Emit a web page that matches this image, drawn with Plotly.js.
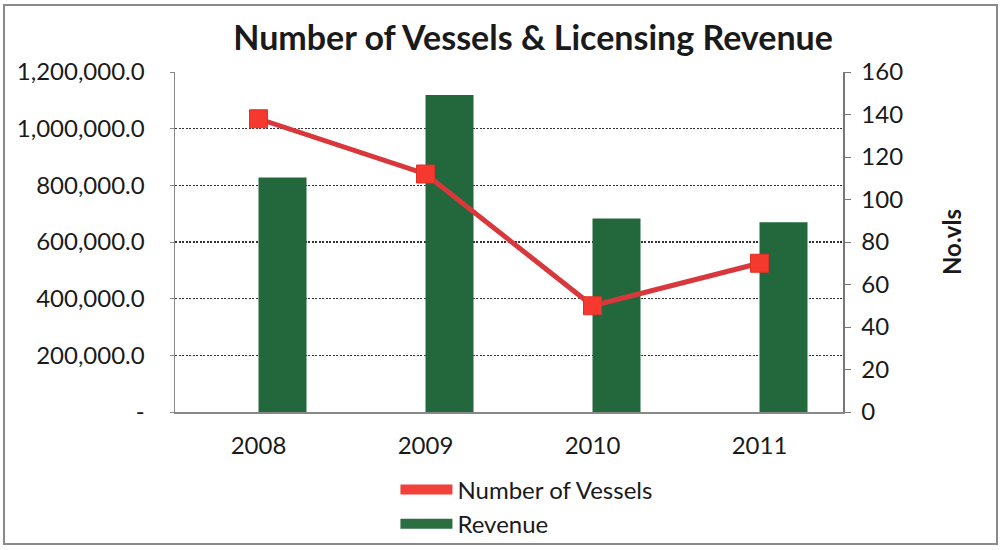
<!DOCTYPE html>
<html>
<head>
<meta charset="utf-8">
<script src="https://cdn.plot.ly/plotly-3.0.1.min.js"></script>
<style>
html,body{margin:0;padding:0;background:#fff;}
#wrap{position:relative;width:1004px;height:550px;}
#chart{width:1004px;height:550px;}
#frame{position:absolute;left:3px;top:4px;width:995px;height:541px;border:2px solid #8a8a8a;pointer-events:none;box-sizing:border-box;}
</style>
</head>
<body>
<div id="wrap"><div id="chart"></div><div id="frame"></div></div>
<script>
const years = ['2008', '2009', '2010', '2011'];
const vessels = [138, 112, 50, 70];
const revenue = [828000, 1119000, 683000, 670000];
const revTickVals = [0, 200000, 400000, 600000, 800000, 1000000, 1200000];
const revTickText = ['-', '200,000.0', '400,000.0', '600,000.0', '800,000.0', '1,000,000.0', '1,200,000.0'];
const legendNames = ['Number of Vessels', 'Revenue'];

const FONT = 'Lato, "Open Sans", sans-serif';
const RED = '#f2403a';
const GREEN = '#22683c';

const traces = [
  {type:'bar', name:legendNames[0], x:years, y:vessels, yaxis:'y', showlegend:false,
   marker:{color:RED}, hoverinfo:'skip'},
  {type:'bar', name:legendNames[1], x:years, y:revenue, yaxis:'y', showlegend:false,
   marker:{color:GREEN}},
  {type:'scatter', mode:'lines+markers', name:legendNames[0], x:years, y:vessels, yaxis:'y2',
   showlegend:false,
   line:{color:'#d8383c', width:5},
   marker:{symbol:'square', size:18, color:'#f5392f', line:{color:'#e0302a', width:1}}},
  // legend-only entries (wide rectangle swatches like the original)
  {type:'scatter', mode:'lines', name:legendNames[0], x:[null], y:[null], yaxis:'y',
   line:{color:RED, width:14}, hoverinfo:'skip'},
  {type:'scatter', mode:'lines', name:legendNames[1], x:[null], y:[null], yaxis:'y',
   line:{color:'#2b6e42', width:14}, hoverinfo:'skip'}
];

const layout = {
  width:1004, height:550,
  margin:{l:175, r:161, t:72, b:138},
  paper_bgcolor:'#ffffff', plot_bgcolor:'#ffffff',
  font:{family:FONT, color:'#1a1a1a', size:24},
  title:{text:'<b>Number of Vessels & Licensing Revenue</b>', font:{family:FONT, size:34, color:'#1a1a1a'},
         x:0.531, xanchor:'center', y:0.93, yanchor:'middle'},
  barmode:'group', bargap:0.425, bargroupgap:0,
  showlegend:true,
  legend:{orientation:'v', x:0.33, xanchor:'left', yref:'container', y:0.15, yanchor:'top',
          font:{family:FONT, size:24, color:'#1a1a1a'}, tracegroupgap:0, itemwidth:52,
          bgcolor:'rgba(0,0,0,0)'},
  xaxis:{type:'category', showline:true, linecolor:'#888', linewidth:1.5, ticks:'',
         tickfont:{family:FONT, size:24}, showgrid:false, zeroline:false, ticklabelstandoff:12},
  yaxis:{range:[0,1200000], tickvals:revTickVals, ticktext:revTickText, showline:true,
         linecolor:'#888', linewidth:1.5, ticks:'outside', ticklen:4, tickcolor:'#888',
         showgrid:true, gridcolor:'#333', griddash:'2px,1.5px', gridwidth:1.3, zeroline:false,
         tickfont:{family:FONT, size:24}, ticklabelstandoff:20},
  yaxis2:{range:[0,160], dtick:20, overlaying:'y', side:'right', showline:true, linecolor:'#777',
          linewidth:1.5, ticks:'outside', ticklen:6, tickcolor:'#777', showgrid:false, zeroline:false,
          tickfont:{family:FONT, size:24}, ticklabelstandoff:6,
          title:{text:'<b>No.vls</b>', font:{family:FONT, size:24, color:'#1a1a1a'}, standoff:42}}
};

Plotly.newPlot('chart', traces, layout, {displayModeBar:false, staticPlot:true});
</script>
</body>
</html>
